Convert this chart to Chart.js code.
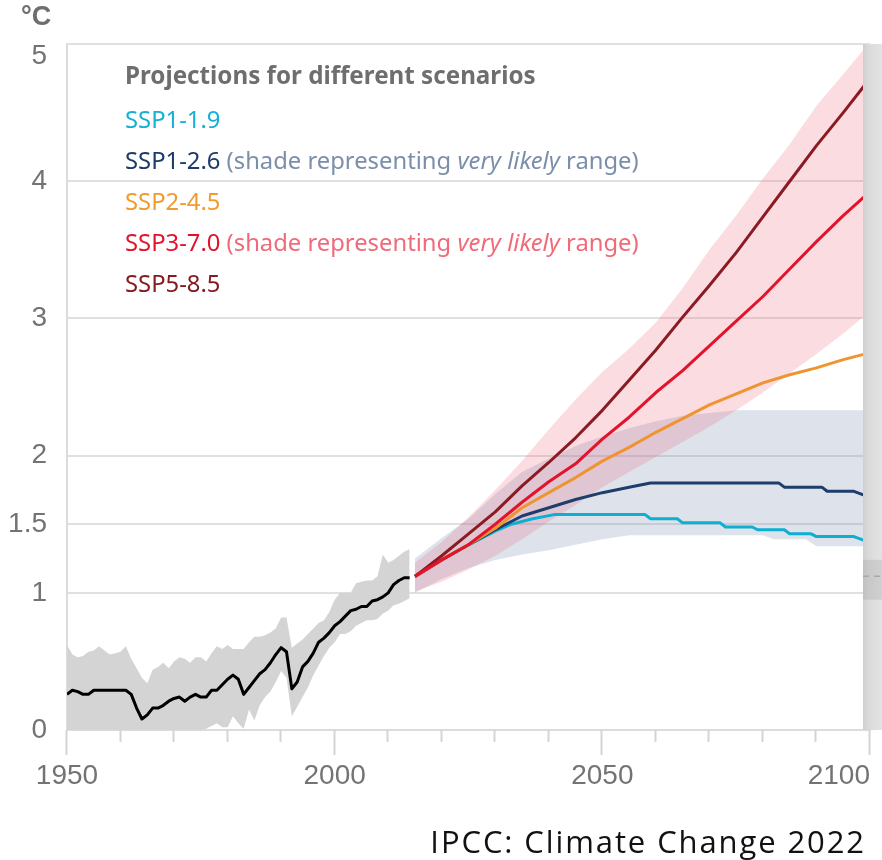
<!DOCTYPE html>
<html>
<head>
<meta charset="utf-8">
<script src="https://cdn.jsdelivr.net/npm/chart.js@4.4.1/dist/chart.umd.min.js"></script>
<style>
  html, body { margin: 0; padding: 0; background: #ffffff; }
  #wrap { position: relative; width: 882px; height: 860px; overflow: hidden; }
  #c { position: absolute; left: 0; top: 0; }
  #unit { position: absolute; left: 21px; top: 1px; font: bold 27px 'Liberation Sans Narrow', sans-serif; color: #6e6e6e; }
  #legend { position: absolute; left: 125px; top: 54px; font-family: 'Noto Sans', sans-serif; font-size: 23.8px; line-height: 41px; white-space: nowrap; }
  #legend .title { font-weight: bold; color: #6e6e6e; font-size: 24.2px; margin-bottom: 4px; }
  #source { position: absolute; right: 16px; top: 823px; font-family: 'Open Sans', sans-serif; font-size: 31px; line-height: 36px; color: #111111; letter-spacing: 1.9px; }
</style>
</head>
<body>
<div id="wrap">
  <canvas id="c" width="882" height="860"></canvas>
  <div id="unit">°C</div>
  <div id="legend"></div>
  <div id="source">IPCC: Climate Change 2022</div>
</div>
<script>
// ---- Observed warming since 1950 (yearly, starting at histStart) ----
const histStart = 1950;
const histMean = [
  0.26, 0.29, 0.28, 0.26, 0.26, 0.29, 0.29, 0.29, 0.29, 0.29,
  0.29, 0.29, 0.26, 0.16, 0.08, 0.11, 0.16, 0.16, 0.18, 0.21,
  0.23, 0.24, 0.21, 0.24, 0.26, 0.24, 0.24, 0.29, 0.29, 0.33,
  0.37, 0.40, 0.37, 0.26, 0.31, 0.36, 0.41, 0.44, 0.49, 0.55,
  0.60, 0.57, 0.30, 0.35, 0.46, 0.50, 0.56, 0.64, 0.67, 0.71,
  0.76, 0.79, 0.83, 0.87, 0.88, 0.90, 0.90, 0.94, 0.95, 0.97,
  1.00, 1.06, 1.09, 1.11, 1.11
];
const histLow = [
  0, 0, 0, 0, 0, 0, 0, 0, 0, 0,
  0, 0, 0, 0, 0, 0, 0, 0, 0, 0,
  0, 0, 0, 0, 0, 0, 0.01, 0.03, 0.05, 0.02,
  0.02, 0.10, 0.05, 0.01, 0.15, 0.07, 0.18, 0.24, 0.28, 0.35,
  0.43, 0.38, 0.10, 0.17, 0.24, 0.31, 0.40, 0.47, 0.54, 0.60,
  0.64, 0.70, 0.70, 0.72, 0.76, 0.78, 0.80, 0.80, 0.81, 0.85,
  0.87, 0.91, 0.92, 0.94, 0.96
];
const histHigh = [
  0.62, 0.55, 0.53, 0.54, 0.57, 0.58, 0.61, 0.58, 0.55, 0.56,
  0.57, 0.61, 0.52, 0.45, 0.38, 0.34, 0.44, 0.46, 0.49, 0.45,
  0.50, 0.53, 0.52, 0.49, 0.53, 0.53, 0.50, 0.56, 0.61, 0.59,
  0.62, 0.59, 0.59, 0.59, 0.64, 0.68, 0.68, 0.69, 0.71, 0.74,
  0.82, 0.82, 0.60, 0.63, 0.66, 0.70, 0.74, 0.78, 0.80, 0.86,
  0.95, 1.00, 1.00, 1.00, 1.07, 1.08, 1.09, 1.09, 1.12, 1.28,
  1.22, 1.24, 1.27, 1.30, 1.32
];

// ---- Scenario projections ----
const projYears = [2015, 2020, 2025, 2030, 2035, 2040, 2045, 2050, 2055, 2060, 2065, 2070, 2075, 2080, 2085, 2090, 2095, 2099];
const ssp245 = [1.12, 1.24, 1.35, 1.47, 1.62, 1.73, 1.84, 1.96, 2.06, 2.17, 2.27, 2.37, 2.45, 2.53, 2.59, 2.64, 2.70, 2.74];
const ssp370 = [1.12, 1.24, 1.35, 1.50, 1.66, 1.81, 1.94, 2.12, 2.28, 2.46, 2.62, 2.80, 2.98, 3.16, 3.36, 3.56, 3.75, 3.89];
const ssp585 = [1.12, 1.27, 1.43, 1.59, 1.78, 1.95, 2.13, 2.33, 2.55, 2.77, 3.01, 3.24, 3.48, 3.74, 4.00, 4.26, 4.50, 4.70];
const ssp370Low  = [1.01, 1.08, 1.17, 1.27, 1.39, 1.52, 1.64, 1.77, 1.88, 1.99, 2.10, 2.21, 2.33, 2.46, 2.60, 2.74, 2.89, 3.02];
const ssp370High = [1.22, 1.37, 1.55, 1.75, 1.96, 2.19, 2.41, 2.61, 2.78, 2.97, 3.22, 3.50, 3.75, 4.02, 4.27, 4.55, 4.78, 4.97];

const ssp119Years = [2015, 2020, 2025, 2030, 2033, 2037, 2041, 2058, 2059, 2064, 2065, 2072, 2073, 2078, 2079, 2084, 2085, 2089, 2090, 2097, 2099];
const ssp119 = [1.12, 1.24, 1.35, 1.45, 1.50, 1.54, 1.57, 1.57, 1.54, 1.54, 1.51, 1.51, 1.48, 1.48, 1.46, 1.46, 1.43, 1.43, 1.41, 1.41, 1.38];

const ssp126Years = [2015, 2020, 2025, 2030, 2035, 2040, 2045, 2050, 2055, 2059, 2083, 2084, 2091, 2092, 2097, 2099];
const ssp126 = [1.12, 1.24, 1.35, 1.46, 1.56, 1.62, 1.68, 1.73, 1.77, 1.80, 1.80, 1.77, 1.77, 1.74, 1.74, 1.71];
const ssp126BandYears = [2015, 2020, 2025, 2030, 2035, 2040, 2045, 2050, 2055, 2060, 2065, 2070, 2075, 2080, 2082, 2088, 2090, 2099];
const ssp126Low  = [1.00, 1.10, 1.18, 1.24, 1.28, 1.31, 1.35, 1.39, 1.42, 1.42, 1.42, 1.42, 1.42, 1.42, 1.39, 1.39, 1.34, 1.34];
const ssp126High = [1.25, 1.40, 1.54, 1.72, 1.88, 1.98, 2.07, 2.14, 2.20, 2.25, 2.29, 2.31, 2.33, 2.33, 2.33, 2.33, 2.33, 2.33];

// ---- Axes ----
const yTickValues = [0, 1, 1.5, 2, 3, 4, 5];
const xTickYears = [1950, 1960, 1970, 1980, 1990, 2000, 2010, 2020, 2030, 2040, 2050, 2060, 2070, 2080, 2090, 2100];
const xLabelYears = [1950, 2000, 2050, 2100];

// ---- Legend ----
const scenarioNames  = ['SSP1-1.9', 'SSP1-2.6', 'SSP2-4.5', 'SSP3-7.0', 'SSP5-8.5'];
const scenarioColors = ['#16b0d7', '#1b3b69', '#f39a2f', '#e3132c', '#861a21'];
const shadeNoteColors = [null, '#7b8fab', null, '#ef6b7a', null];

const pts = (xs, ys) => ys.map((v, i) => ({ x: xs[i], y: v }));
const histPts = ys => ys.map((v, i) => ({ x: histStart + i, y: v }));

// legend block
(function buildLegend() {
  const el = document.getElementById('legend');
  let html = '<div class="title">Projections for different scenarios</div>';
  scenarioNames.forEach((name, i) => {
    html += '<div><span style="color:' + scenarioColors[i] + '">' + name + '</span>';
    if (shadeNoteColors[i]) {
      html += ' <span style="color:' + shadeNoteColors[i] + '">(shade representing <i>very likely</i> range)</span>';
    }
    html += '</div>';
  });
  el.innerHTML = html;
})();

const tickFont = { family: "'Liberation Sans Narrow', sans-serif", size: 28 };

// axis ticks, year labels and the right-hand strip
const decor = {
  id: 'decor',
  afterDatasetsDraw(chart) {
    const { ctx, chartArea, scales: { x, y } } = chart;
    const sx = Math.round(x.getPixelForValue(2098.6));
    const w = chart.width - sx;
    const g = ctx.createLinearGradient(sx, 0, chart.width, 0);
    g.addColorStop(0, '#cfcfcf');
    g.addColorStop(0.3, '#dadada');
    g.addColorStop(1, '#e3e3e3');
    ctx.save();
    ctx.fillStyle = g;
    ctx.fillRect(sx, chartArea.top, w, chartArea.bottom - chartArea.top);
    const bTop = y.getPixelForValue(1.24), bBot = y.getPixelForValue(0.95);
    ctx.fillStyle = 'rgba(140,140,140,0.22)';
    ctx.fillRect(sx, bTop, w, bBot - bTop);
    ctx.strokeStyle = '#a8a8a8';
    ctx.lineWidth = 1.5;
    ctx.setLineDash([6, 5]);
    const my = y.getPixelForValue(1.12);
    ctx.beginPath(); ctx.moveTo(sx, my); ctx.lineTo(chart.width, my); ctx.stroke();
    ctx.restore();
  },
  afterDraw(chart) {
    const { ctx, chartArea, scales: { x } } = chart;
    ctx.save();
    ctx.strokeStyle = '#d4d4d4';
    ctx.lineWidth = 2;
    xTickYears.forEach(yr => {
      const px = Math.round(x.getPixelForValue(yr)) - 0.5;
      const len = xLabelYears.includes(yr) ? 25 : 12;
      ctx.beginPath(); ctx.moveTo(px, chartArea.bottom); ctx.lineTo(px, chartArea.bottom + len); ctx.stroke();
    });
    ctx.fillStyle = '#737373';
    ctx.font = tickFont.size + 'px ' + tickFont.family;
    ctx.textBaseline = 'middle';
    xLabelYears.forEach((yr, i) => {
      const px = x.getPixelForValue(yr);
      ctx.textAlign = i === xLabelYears.length - 1 ? 'right' : 'center';
      ctx.fillText(String(yr), px, chartArea.bottom + 46);
    });
    ctx.restore();
  }
};

new Chart(document.getElementById('c'), {
  type: 'line',
  data: {
    datasets: [
      { label: 'SSP3-7.0', data: pts(projYears, ssp370), borderColor: '#e3132c', borderWidth: 3, order: 1 },
      { label: 'SSP5-8.5', data: pts(projYears, ssp585), borderColor: '#8b1a22', borderWidth: 3, order: 2 },
      { label: 'SSP2-4.5', data: pts(projYears, ssp245), borderColor: '#ef9430', borderWidth: 3, order: 3 },
      { label: 'SSP1-2.6', data: pts(ssp126Years, ssp126), borderColor: '#1d3d6b', borderWidth: 3, order: 4 },
      { label: 'SSP1-1.9', data: pts(ssp119Years, ssp119), borderColor: '#0fafd4', borderWidth: 3, order: 5 },
      { label: 'Observed', data: histPts(histMean), borderColor: '#000000', borderWidth: 3, order: 6 },
      // very likely ranges
      { label: 'SSP3-7.0 low', data: pts(projYears, ssp370Low), borderWidth: 0, borderColor: 'rgba(0,0,0,0)', order: 20 },
      { label: 'SSP3-7.0 high', data: pts(projYears, ssp370High), borderWidth: 0, borderColor: 'rgba(0,0,0,0)',
        fill: { target: 6 }, backgroundColor: 'rgba(232,96,118,0.22)', order: 21 },
      { label: 'SSP1-2.6 low', data: pts(ssp126BandYears, ssp126Low), borderWidth: 0, borderColor: 'rgba(0,0,0,0)', order: 30 },
      { label: 'SSP1-2.6 high', data: pts(ssp126BandYears, ssp126High), borderWidth: 0, borderColor: 'rgba(0,0,0,0)',
        fill: { target: 8 }, backgroundColor: 'rgba(128,148,180,0.27)', order: 31 },
      { label: 'Observed low', data: histPts(histLow), borderWidth: 0, borderColor: 'rgba(0,0,0,0)', order: 40 },
      { label: 'Observed high', data: histPts(histHigh), borderWidth: 0, borderColor: 'rgba(0,0,0,0)',
        fill: { target: 10 }, backgroundColor: '#d4d4d4', order: 41 }
    ]
  },
  options: {
    responsive: false,
    animation: false,
    devicePixelRatio: 1,
    layout: { padding: { top: 44, right: 12, left: 0, bottom: 0 } },
    plugins: { legend: { display: false }, tooltip: { enabled: false } },
    elements: { point: { radius: 0 }, line: { tension: 0, borderJoinStyle: 'round', borderCapStyle: 'butt' } },
    scales: {
      x: {
        type: 'linear', min: 1950, max: 2100,
        ticks: { display: false },
        grid: { display: false },
        border: { display: true, color: '#dcdcdc', width: 2 },
        afterFit(s) { s.height = 130; s.paddingLeft = 0; s.paddingRight = 0; }
      },
      y: {
        min: 0, max: 5,
        afterBuildTicks(s) { s.ticks = yTickValues.map(v => ({ value: v })); },
        ticks: {
          font: { family: tickFont.family, size: tickFont.size, lineHeight: 0.86 },
          color: '#737373',
          padding: 20,
          callback(v) { return v === 5 ? ['', '5'] : String(v); }
        },
        grid: { color: '#e0e0e0', lineWidth: 2, drawTicks: false },
        border: { display: true, color: '#dcdcdc', width: 2 },
        afterFit(s) { s.width = 67; }
      }
    }
  },
  plugins: [decor]
});
</script>
</body>
</html>
